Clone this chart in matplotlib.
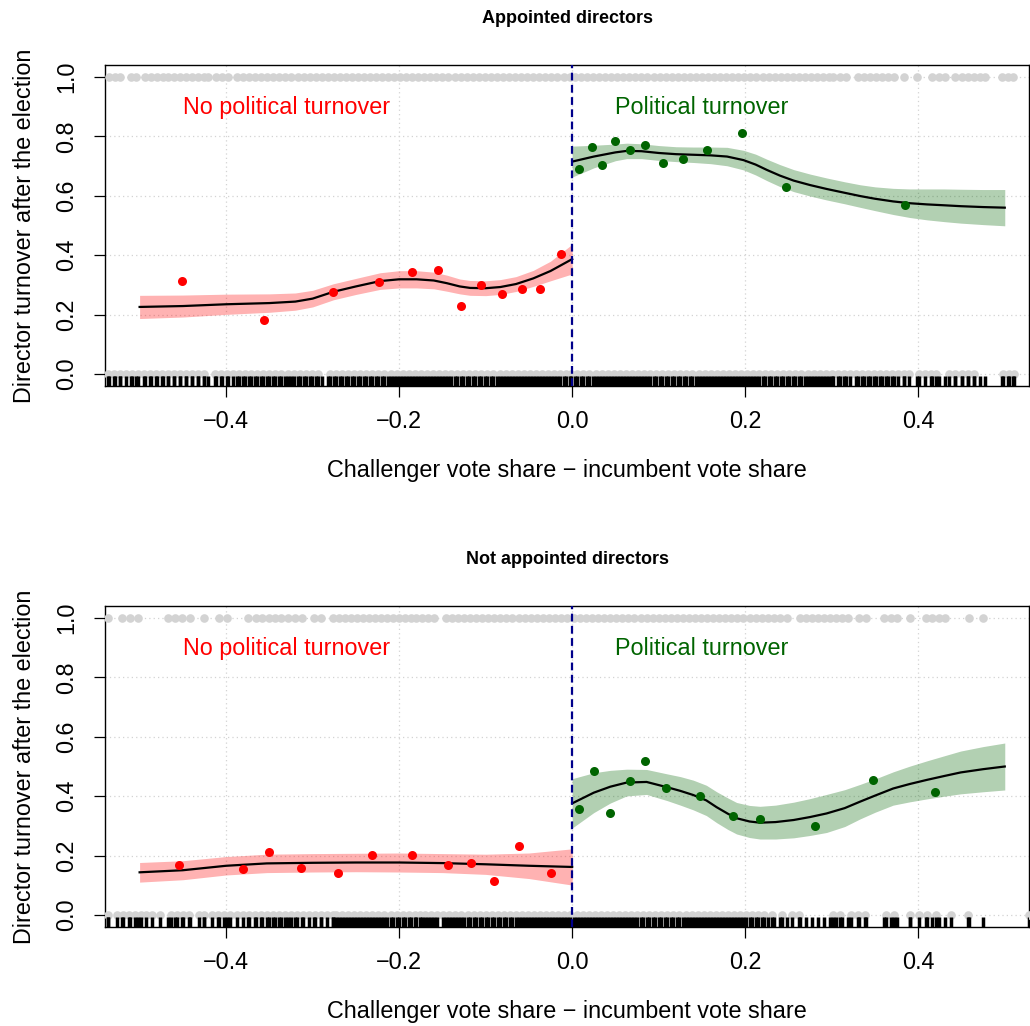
import numpy as np
import matplotlib
matplotlib.use("Agg")
import matplotlib.pyplot as plt

plt.rcParams["font.family"] = ["Liberation Sans", "DejaVu Sans"]

# ---- binned means ----
top_left_bx = [-0.451, -0.356, -0.276, -0.223, -0.185, -0.155, -0.129, -0.105, -0.081, -0.058, -0.037, -0.013]
top_left_by = [0.312, 0.181, 0.277, 0.309, 0.343, 0.351, 0.229, 0.300, 0.270, 0.285, 0.285, 0.404]
top_right_bx = [0.008, 0.023, 0.035, 0.050, 0.067, 0.084, 0.105, 0.128, 0.156, 0.196, 0.247, 0.385]
top_right_by = [0.691, 0.764, 0.704, 0.783, 0.754, 0.770, 0.709, 0.725, 0.755, 0.811, 0.631, 0.570]

bot_left_bx = [-0.454, -0.381, -0.350, -0.313, -0.271, -0.231, -0.185, -0.143, -0.117, -0.090, -0.062, -0.024]
bot_left_by = [0.170, 0.155, 0.212, 0.160, 0.143, 0.203, 0.202, 0.167, 0.177, 0.114, 0.234, 0.142]
bot_right_bx = [0.008, 0.025, 0.044, 0.067, 0.084, 0.108, 0.148, 0.186, 0.217, 0.281, 0.348, 0.419]
bot_right_by = [0.358, 0.484, 0.345, 0.451, 0.519, 0.426, 0.400, 0.333, 0.322, 0.301, 0.453, 0.415]

# ---- fitted curves and confidence bands ----
tl_x = [-0.5, -0.45, -0.4, -0.35, -0.32, -0.3, -0.276, -0.25, -0.222, -0.2, -0.18,
        -0.16, -0.145, -0.13, -0.118, -0.1, -0.083, -0.065, -0.045, -0.025, 0.0]
tl_fit = [0.226, 0.229, 0.235, 0.239, 0.244, 0.254, 0.277, 0.295, 0.313, 0.319, 0.319,
          0.315, 0.306, 0.295, 0.290, 0.289, 0.293, 0.303, 0.322, 0.347, 0.387]
tl_lo = [0.187, 0.192, 0.201, 0.208, 0.215, 0.226, 0.250, 0.268, 0.285, 0.290, 0.290,
         0.287, 0.279, 0.270, 0.265, 0.264, 0.268, 0.278, 0.295, 0.314, 0.337]
tl_hi = [0.265, 0.266, 0.269, 0.270, 0.273, 0.282, 0.304, 0.322, 0.341, 0.348, 0.348,
         0.343, 0.333, 0.320, 0.315, 0.314, 0.318, 0.328, 0.349, 0.380, 0.437]

tr_x = [0.0, 0.025, 0.05, 0.063, 0.08, 0.1, 0.12, 0.14, 0.16, 0.179, 0.198, 0.212, 0.225, 0.24,
        0.256, 0.275, 0.294, 0.315, 0.333, 0.35, 0.371, 0.39, 0.41, 0.43, 0.449, 0.475, 0.5]
tr_fit = [0.715, 0.732, 0.746, 0.751, 0.750, 0.744, 0.740, 0.738, 0.736, 0.732, 0.720, 0.705, 0.687, 0.668,
          0.651, 0.636, 0.623, 0.610, 0.599, 0.590, 0.581, 0.575, 0.571, 0.568, 0.565, 0.562, 0.560]
tr_lo = [0.663, 0.694, 0.718, 0.725, 0.725, 0.719, 0.715, 0.712, 0.708, 0.701, 0.687, 0.670, 0.651, 0.631,
         0.614, 0.599, 0.586, 0.573, 0.561, 0.550, 0.537, 0.527, 0.519, 0.513, 0.508, 0.503, 0.499]
tr_hi = [0.767, 0.770, 0.774, 0.777, 0.775, 0.769, 0.765, 0.764, 0.764, 0.763, 0.753, 0.740, 0.723, 0.705,
         0.688, 0.673, 0.660, 0.647, 0.637, 0.630, 0.625, 0.623, 0.623, 0.623, 0.622, 0.621, 0.621]

bl_x = [-0.5, -0.45, -0.4, -0.353, -0.3, -0.25, -0.2, -0.15, -0.1, -0.05, 0.0]
bl_fit = [0.144, 0.151, 0.166, 0.174, 0.176, 0.177, 0.177, 0.175, 0.171, 0.166, 0.162]
bl_lo = [0.111, 0.119, 0.135, 0.143, 0.145, 0.146, 0.145, 0.143, 0.137, 0.123, 0.101]
bl_hi = [0.177, 0.183, 0.197, 0.205, 0.207, 0.208, 0.209, 0.207, 0.205, 0.209, 0.223]

br_x = [0.0, 0.025, 0.044, 0.063, 0.086, 0.11, 0.125, 0.14, 0.155, 0.167, 0.18, 0.19, 0.205, 0.217,
        0.235, 0.256, 0.275, 0.294, 0.315, 0.333, 0.35, 0.371, 0.39, 0.41, 0.43, 0.449, 0.475, 0.5]
br_fit = [0.376, 0.412, 0.432, 0.446, 0.448, 0.430, 0.418, 0.404, 0.386, 0.363, 0.341, 0.326, 0.315, 0.311,
          0.313, 0.320, 0.330, 0.342, 0.360, 0.382, 0.402, 0.426, 0.441, 0.455, 0.468, 0.480, 0.491, 0.500]
br_lo = [0.293, 0.345, 0.377, 0.401, 0.406, 0.385, 0.370, 0.354, 0.335, 0.311, 0.288, 0.273, 0.261, 0.256,
         0.256, 0.260, 0.268, 0.278, 0.298, 0.324, 0.346, 0.370, 0.381, 0.391, 0.400, 0.408, 0.415, 0.421]
br_hi = [0.459, 0.479, 0.487, 0.491, 0.490, 0.475, 0.466, 0.454, 0.437, 0.415, 0.394, 0.379, 0.369, 0.366,
         0.370, 0.380, 0.392, 0.406, 0.422, 0.440, 0.458, 0.482, 0.501, 0.519, 0.536, 0.552, 0.567, 0.579]

# ---- raw observations (x of outcome = 1 and outcome = 0) ----
top_one_x = [
    -0.535, -0.529, -0.523, -0.510, -0.504, -0.494, -0.487, -0.480, -0.473,
    -0.467, -0.460, -0.453, -0.446, -0.439, -0.432, -0.426, -0.421, -0.412, -0.405, -0.398,
    -0.388, -0.381, -0.374, -0.367, -0.360, -0.353, -0.346, -0.339, -0.332, -0.325,
    -0.317, -0.310, -0.303, -0.296, -0.289, -0.282, -0.275, -0.268,
    -0.262, -0.255, -0.248, -0.241, -0.234, -0.227, -0.220, -0.213, -0.206, -0.199, -0.192,
    -0.185, -0.178, -0.171, -0.164, -0.157, -0.150, -0.143, -0.136, -0.129, -0.122, -0.115,
    -0.108, -0.101, -0.094, -0.087, -0.080, -0.073, -0.066, -0.059, -0.052, -0.045, -0.038,
    -0.031, -0.024, -0.017, -0.010, -0.003, 0.003, 0.010, 0.017, 0.024, 0.031, 0.038, 0.045,
    0.052, 0.059, 0.066, 0.073, 0.080, 0.087, 0.094, 0.101, 0.108, 0.115, 0.122, 0.129, 0.136,
    0.143, 0.150, 0.157, 0.164, 0.171, 0.178, 0.185, 0.192, 0.199, 0.206, 0.213, 0.220, 0.227,
    0.234, 0.241, 0.248, 0.255, 0.262, 0.269, 0.276, 0.283, 0.290, 0.297, 0.302,
    0.310, 0.317, 0.330, 0.337, 0.344, 0.351, 0.358, 0.365, 0.372, 0.384, 0.398,
    0.416, 0.424, 0.431, 0.443, 0.450, 0.457, 0.464, 0.471, 0.477, 0.497, 0.504, 0.510]
top_zero_x = [
    -0.537, -0.530, -0.523, -0.516, -0.509, -0.502, -0.495, -0.488, -0.481, -0.474, -0.467,
    -0.460, -0.453, -0.446, -0.439, -0.432, -0.425,
    -0.413, -0.406, -0.399, -0.392, -0.385, -0.378, -0.371, -0.364, -0.357, -0.350, -0.343,
    -0.336, -0.329, -0.322, -0.315, -0.308, -0.301, -0.294,
    -0.280, -0.273, -0.266, -0.259, -0.252, -0.245, -0.238, -0.231, -0.224, -0.217, -0.210,
    -0.203, -0.196, -0.189, -0.182, -0.175, -0.168, -0.161, -0.154, -0.147, -0.140, -0.133,
    -0.126, -0.119, -0.112, -0.105, -0.098, -0.091, -0.084, -0.077, -0.070, -0.063, -0.056,
    -0.049, -0.042, -0.035, -0.028, -0.021, -0.014, -0.007, -0.001, 0.006, 0.013, 0.020,
    0.027, 0.034, 0.041, 0.048, 0.055, 0.062, 0.069, 0.076, 0.083, 0.090, 0.097, 0.104, 0.111,
    0.118, 0.125, 0.132, 0.139, 0.146, 0.153, 0.160, 0.167, 0.174, 0.181, 0.188, 0.195, 0.202,
    0.209, 0.216, 0.223, 0.230, 0.237, 0.244, 0.251, 0.258, 0.265, 0.272, 0.279, 0.286, 0.293,
    0.300, 0.307, 0.314, 0.321, 0.328, 0.335, 0.342, 0.349, 0.356, 0.363, 0.370, 0.377, 0.383,
    0.389, 0.401, 0.408, 0.415, 0.421, 0.436, 0.443, 0.450, 0.457, 0.464, 0.498, 0.505, 0.511]

bot_one_x = [
    -0.537, -0.520, -0.511, -0.502, -0.467, -0.459, -0.451, -0.442, -0.425, -0.408, -0.399,
    -0.375, -0.365, -0.358, -0.351, -0.344, -0.337, -0.329, -0.320, -0.312, -0.298, -0.290,
    -0.277, -0.270, -0.263, -0.256, -0.249, -0.242, -0.235, -0.228, -0.221, -0.214, -0.207,
    -0.200, -0.193, -0.186, -0.180, -0.174, -0.167, -0.160,
    -0.146, -0.139, -0.132, -0.125, -0.118, -0.111, -0.104, -0.097, -0.090, -0.083, -0.076,
    -0.069, -0.062, -0.055, -0.048, -0.041, -0.034, -0.027, -0.020, -0.013, -0.006, 0.002,
    0.009, 0.016, 0.023, 0.030, 0.037, 0.044, 0.051, 0.058, 0.065, 0.072, 0.079, 0.086, 0.093,
    0.100, 0.107, 0.114, 0.121, 0.128, 0.135, 0.142, 0.149, 0.156, 0.163, 0.170, 0.177, 0.184,
    0.191, 0.198, 0.205, 0.212, 0.219, 0.226, 0.233, 0.240, 0.248,
    0.263, 0.270, 0.277, 0.284, 0.291, 0.298, 0.305, 0.312, 0.319,
    0.331, 0.340, 0.360, 0.368, 0.375, 0.390, 0.409, 0.416, 0.424, 0.431, 0.459, 0.475]
bot_zero_x = [
    -0.537, -0.526, -0.519, -0.512, -0.505, -0.498, -0.493, -0.486, -0.477, -0.464, -0.457,
    -0.450, -0.443, -0.431, -0.425,
    -0.416, -0.409, -0.402, -0.395, -0.388, -0.381, -0.374, -0.367, -0.360, -0.353, -0.346,
    -0.339, -0.332, -0.325, -0.318, -0.311, -0.304, -0.297, -0.290, -0.283, -0.276,
    -0.273, -0.266, -0.259, -0.252, -0.245, -0.238, -0.231, -0.224, -0.217, -0.210, -0.203,
    -0.196, -0.189, -0.182, -0.176, -0.170, -0.163, -0.156, -0.149, -0.142, -0.135, -0.128,
    -0.121, -0.114, -0.107, -0.100, -0.093, -0.086, -0.079, -0.072, -0.065, -0.058, -0.051,
    -0.044, -0.037, -0.030, -0.023, -0.016, -0.009, -0.002, 0.005, 0.012, 0.019, 0.026, 0.033,
    0.040, 0.047, 0.054, 0.061, 0.068, 0.075, 0.082, 0.089, 0.096, 0.103, 0.110, 0.117, 0.124,
    0.131, 0.138, 0.145, 0.152, 0.159, 0.166, 0.173, 0.180, 0.187, 0.194, 0.201, 0.208, 0.215,
    0.222, 0.231, 0.242, 0.254, 0.262, 0.302, 0.310, 0.322, 0.330, 0.338, 0.363, 0.372, 0.390,
    0.401, 0.410, 0.420, 0.438, 0.458, 0.528]

x_ticks = [-0.4, -0.2, 0.0, 0.2, 0.4]
x_tick_labels = ["\u22120.4", "\u22120.2", "0.0", "0.2", "0.4"]
y_ticks = [0.0, 0.2, 0.4, 0.6, 0.8, 1.0]
y_tick_labels = ["0.0", "0.2", "0.4", "0.6", "0.8", "1.0"]

FS = 16.8


def draw_panel(ax, title, one_x, zero_x, left, right, lpts, rpts):
    ax.set_xlim(-0.540, 0.528)
    ax.set_ylim(-0.04, 1.04)
    for v in x_ticks:
        ax.axvline(v, color="#d3d3d3", lw=0.9, ls=(0, (1, 2.5)), zorder=0)
    for v in y_ticks:
        ax.axhline(v, color="#d3d3d3", lw=0.9, ls=(0, (1, 2.5)), zorder=0)

    lx, lfit, llo, lhi = left
    rx, rfit, rlo, rhi = right
    ax.fill_between(lx, llo, lhi, color="red", alpha=0.3, lw=0, zorder=1)
    ax.fill_between(rx, rlo, rhi, color="darkgreen", alpha=0.3, lw=0, zorder=1)
    ax.plot(lx, lfit, color="black", lw=1.6, zorder=2)
    ax.plot(rx, rfit, color="black", lw=1.6, zorder=2)
    ax.plot(lpts[0], lpts[1], "o", color="red", ms=6.5, mec="none", zorder=3)
    ax.plot(rpts[0], rpts[1], "o", color="darkgreen", ms=6.5, mec="none", zorder=3)

    ax.plot(one_x, np.ones(len(one_x)), "o", color="#d3d3d3", ms=6.2, mec="none", zorder=3)
    ax.plot(zero_x, np.zeros(len(zero_x)), "o", color="#d3d3d3", ms=6.2, mec="none", zorder=3)
    rug = sorted(one_x + zero_x)
    ax.vlines(rug, 0, 0.03, transform=ax.get_xaxis_transform(), color="black", lw=2.5, zorder=4)

    ax.axvline(0, color="darkblue", lw=1.6, ls=(0, (3.5, 2)), zorder=5)

    ax.text(-0.33, 0.874, "No political turnover", color="red", fontsize=FS, ha="center", va="baseline")
    ax.text(0.1495, 0.874, "Political turnover", color="darkgreen", fontsize=FS, ha="center", va="baseline")

    ax.set_xticks(x_ticks)
    ax.set_xticklabels(x_tick_labels, fontsize=FS)
    ax.set_yticks(y_ticks)
    ax.set_yticklabels(y_tick_labels, fontsize=FS, rotation=90, va="center")
    ax.tick_params(axis="both", direction="out", length=8, width=0.9, color="black")
    ax.tick_params(axis="x", pad=9)
    ax.tick_params(axis="y", pad=11)
    for s in ax.spines.values():
        s.set_linewidth(1.0)
        s.set_color("black")
    ax.set_xlabel("Challenger vote share \u2212 incumbent vote share", fontsize=FS, labelpad=19)
    ax.set_ylabel("Director turnover after the election", fontsize=FS, labelpad=14)
    ax.set_title(title, fontsize=13, fontweight="bold", pad=30)


fig = plt.figure(figsize=(10.30, 10.26), dpi=100)
ax1 = fig.add_axes([105 / 1030, 1 - 386 / 1026, 924 / 1030, 321 / 1026])
ax2 = fig.add_axes([105 / 1030, 1 - 927 / 1026, 924 / 1030, 321 / 1026])

draw_panel(ax1, "Appointed directors", top_one_x, top_zero_x,
           (tl_x, tl_fit, tl_lo, tl_hi), (tr_x, tr_fit, tr_lo, tr_hi),
           (top_left_bx, top_left_by), (top_right_bx, top_right_by))
draw_panel(ax2, "Not appointed directors", bot_one_x, bot_zero_x,
           (bl_x, bl_fit, bl_lo, bl_hi), (br_x, br_fit, br_lo, br_hi),
           (bot_left_bx, bot_left_by), (bot_right_bx, bot_right_by))

fig.savefig("out.png", dpi=100)
